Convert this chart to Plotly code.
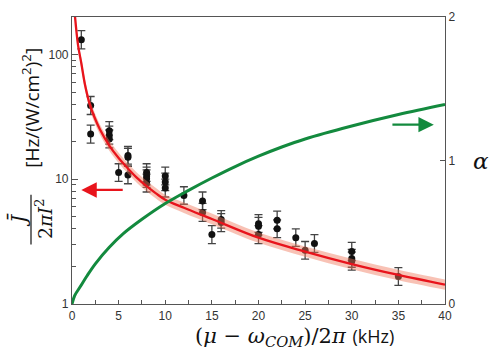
import plotly.graph_objects as go

# ---- data points (kHz, J/(2πI²)) ----
pt_x = [1, 2, 2, 4, 4, 4, 5, 6, 6, 6, 8, 8, 8, 8, 10, 10, 10, 12, 14, 14, 15, 16, 16,
        20, 20, 20, 22, 22, 24, 25, 26, 30, 30, 30, 35]
pt_y = [131, 39, 23, 24.5, 22.5, 21, 11.3, 15.5, 15, 10.8, 11.3, 10.6, 10.1, 9.3, 10.6, 9.5, 8.5,
        7.4, 6.7, 5.4, 3.6, 4.75, 4.5, 4.4, 4.2, 3.6, 4.7, 4.0, 3.4, 2.69, 3.05, 2.64, 2.32, 2.2, 1.66]
pt_err_plus = [24, 7, 4.1, 4.4, 4.1, 3.8, 2.0, 2.8, 2.7, 1.9, 2.0, 1.9, 1.8, 1.7, 1.9, 1.7, 1.5,
               1.3, 1.2, 1.0, 0.65, 0.85, 0.8, 0.8, 0.75, 0.65, 0.85, 0.72, 0.6, 0.48, 0.55, 0.48, 0.42, 0.4, 0.3]
pt_err_minus = [20, 6, 3.5, 3.7, 3.4, 3.2, 1.7, 2.3, 2.3, 1.6, 1.7, 1.6, 1.5, 1.4, 1.6, 1.4, 1.3,
                1.1, 1.0, 0.8, 0.55, 0.7, 0.7, 0.65, 0.63, 0.55, 0.7, 0.6, 0.5, 0.4, 0.46, 0.4, 0.35, 0.33, 0.25]

# ---- fitted J curve and its uncertainty band ----
fit_x = [0.3, 0.64, 1, 1.4, 1.9, 2.4, 3, 4, 5, 6, 7, 8, 9, 10, 12, 15, 20, 25, 30, 35, 40]
fit_y = [210, 120, 85, 57, 40, 31.5, 25, 18.6, 14.8, 12.2, 10.2, 8.8, 7.7, 6.85, 5.9, 4.8, 3.4, 2.63, 2.09, 1.71, 1.43]
fit_hi = [231, 132, 93.5, 62.7, 44, 34.7, 27.5, 20.5, 16.3, 13.4, 11.2, 9.7, 8.5, 7.5, 6.5, 5.3, 3.74, 2.89, 2.3, 1.88, 1.57]
fit_lo = [191, 109, 77.3, 51.8, 36.4, 28.6, 22.7, 16.9, 13.5, 11.1, 9.3, 8.0, 7.0, 6.23, 5.36, 4.36, 3.09, 2.39, 1.9, 1.55, 1.3]

# ---- alpha curve ----
alpha_x = [0, 0.3, 0.86, 1.6, 2.5, 4, 5.5, 7.5, 10, 12.5, 15, 17.5, 20, 22.5, 25, 30, 35, 40]
alpha_y = [0, 0.06, 0.118, 0.195, 0.28, 0.395, 0.49, 0.59, 0.70, 0.792, 0.878, 0.958, 1.03, 1.094,
           1.15, 1.24, 1.32, 1.39]

x_ticks = [0, 5, 10, 15, 20, 25, 30, 35, 40]
y_ticks = [1, 10, 100]
y2_ticks = [0, 1, 2]

RED = "#e8141c"
GREEN = "#138a3e"
AXC = "#555555"

fig = go.Figure()

# data points with error bars
fig.add_trace(go.Scatter(
    x=pt_x, y=pt_y, mode="markers",
    marker=dict(color="#111111", size=7),
    error_y=dict(type="data", array=pt_err_plus, arrayminus=pt_err_minus,
                 color="#444444", thickness=1.3, width=4),
    showlegend=False))

# band
fig.add_trace(go.Scatter(x=fit_x, y=fit_hi, mode="lines", line=dict(width=0, shape="spline"),
                         showlegend=False, hoverinfo="skip"))
fig.add_trace(go.Scatter(x=fit_x, y=fit_lo, mode="lines", line=dict(width=0, shape="spline"),
                         fill="tonexty", fillcolor="rgba(240,120,90,0.45)",
                         showlegend=False, hoverinfo="skip"))
# fit line
fig.add_trace(go.Scatter(x=fit_x, y=fit_y, mode="lines",
                         line=dict(color=RED, width=2.3, shape="spline"), showlegend=False))

# alpha curve
fig.add_trace(go.Scatter(x=alpha_x, y=alpha_y, mode="lines", yaxis="y2",
                         line=dict(color=GREEN, width=3, shape="spline"), showlegend=False))

tickfont = dict(family="Liberation Sans, Arial", size=12, color="#333333")

fig.update_layout(
    width=498, height=355,
    margin=dict(l=72, r=53, t=10, b=51),
    paper_bgcolor="white", plot_bgcolor="white",
    xaxis=dict(range=[0, 40], tickvals=x_ticks, ticks="inside", ticklen=4, tickcolor=AXC,
               showline=True, linecolor=AXC, linewidth=1.2, mirror=True,
               showgrid=False, zeroline=False, tickfont=tickfont,
               minor=dict(dtick=2.5, ticks="inside", ticklen=4, tickcolor=AXC, showgrid=False)),
    yaxis=dict(type="log", range=[0, 2.3], tickvals=y_ticks, ticktext=["1", "10", "100"],
               ticks="inside", ticklen=6, tickcolor=AXC,
               showline=True, linecolor=AXC, linewidth=1.2,
               showgrid=False, zeroline=False, tickfont=tickfont,
               minor=dict(dtick="D1", ticks="inside", ticklen=4, tickcolor=AXC, showgrid=False)),
    yaxis2=dict(overlaying="y", side="right", range=[0, 2], tickvals=y2_ticks,
                ticks="inside", ticklen=5, tickcolor=AXC,
                showline=True, linecolor=AXC, linewidth=1.2,
                showgrid=False, zeroline=False, tickfont=tickfont),
)

L, R, T, B = 72, 445, 10, 304

def px(xp):
    return (xp - L) / (R - L)

def py(yp):
    return (B - yp) / (B - T)

def note(xp, yp, text, font, angle=0):
    return dict(x=px(xp), y=py(yp), xref="paper", yref="paper", showarrow=False,
                xanchor="center", yanchor="middle", textangle=angle, text=text, font=font)

annotations = []
# arrows
annotations.append(dict(x=1.0, y=0.914, ax=5.6, ay=0.914, xref="x", yref="y", axref="x", ayref="y",
                        showarrow=True, arrowhead=2, arrowsize=1.4, arrowwidth=2.2,
                        arrowcolor=RED, text=""))
annotations.append(dict(x=38.8, y=1.25, ax=34.2, ay=1.25, xref="x", yref="y2", axref="x", ayref="y2",
                        showarrow=True, arrowhead=2, arrowsize=1.4, arrowwidth=2.2,
                        arrowcolor=GREEN, text=""))
# x title
annotations.append(note(
    294, 338,
    '(<i>μ</i> − <i>ω</i><sub><i>COM</i></sub>)/2<i>π</i> <span style="font-family:Open Sans, sans-serif;font-size:18px">(kHz)</span>',
    dict(family="DejaVu Serif", size=21, color="#111111")))
# right title alpha
annotations.append(note(481, 157, "<i>α</i>", dict(family="DejaVu Serif", size=23, color="#111111")))
# left title: fraction + units
annotations.append(note(18, 218, "<i>J̄</i>", dict(family="DejaVu Serif", size=20, color="#111111"), -90))
annotations.append(note(44, 217, "2<i>πI</i><sup>2</sup>", dict(family="DejaVu Serif", size=19, color="#111111"), -90))
annotations.append(note(31, 103, "[Hz/(W/cm<sup>2</sup>)<sup>2</sup>]",
                        dict(family="Open Sans, sans-serif", size=19, color="#111111"), -90))
fig.update_layout(annotations=annotations)

fig.add_shape(type="line", xref="paper", yref="paper",
              x0=px(31), x1=px(31), y0=py(192), y1=py(243),
              line=dict(color="#111111", width=1.2))

fig.write_html("out.html", config={"displayModeBar": False},
               post_script="document.body.style.margin='0px';")
